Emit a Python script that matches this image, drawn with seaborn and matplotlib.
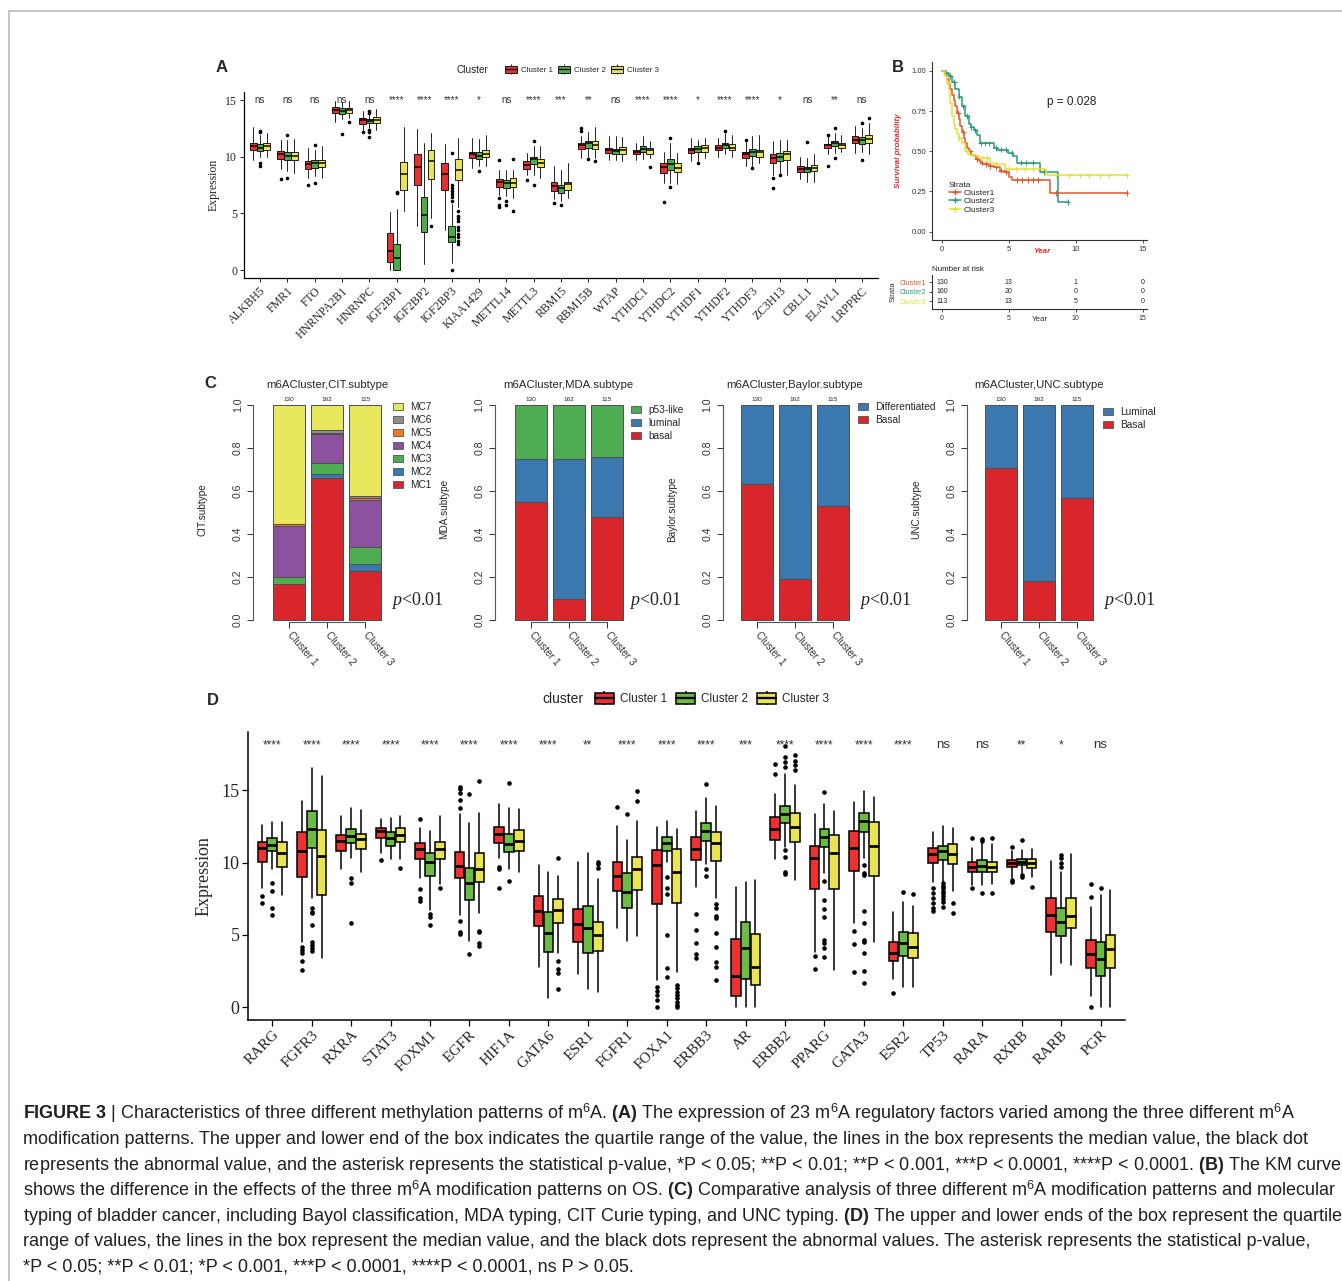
import numpy as np
import pandas as pd
import matplotlib
matplotlib.use("Agg")
import matplotlib.pyplot as plt
from matplotlib.patches import Patch
from matplotlib.lines import Line2D
from matplotlib.legend_handler import HandlerTuple
from matplotlib import font_manager
import seaborn as sns

W, H = 1342, 1281

# ---------------- data: panel A (m6A regulators), (lo, q1, med, q3, hi) ----------------
A_GENES = ["ALKBH5", "FMR1", "FTO", "HNRNPA2B1", "HNRNPC", "IGF2BP1", "IGF2BP2", "IGF2BP3",
           "KIAA1429", "METTL14", "METTL3", "RBM15", "RBM15B", "WTAP", "YTHDC1", "YTHDC2",
           "YTHDF1", "YTHDF2", "YTHDF3", "ZC3H13", "CBLL1", "ELAVL1", "LRPPRC"]
A_SIG = ["ns", "ns", "ns", "ns", "ns", "****", "****", "****", "*", "ns", "****", "***", "**",
         "ns", "****", "****", "*", "****", "****", "*", "ns", "**", "ns"]
A_C1 = [(9.7, 10.6, 10.9, 11.2, 12.6), (8.9, 9.8, 10.2, 10.5, 11.5), (8.1, 8.9, 9.35, 9.65, 10.8),
        (13.1, 13.85, 14.1, 14.35, 14.9), (12.4, 12.9, 13.2, 13.4, 14.05), (0.0, 0.75, 1.7, 3.25, 5.1),
        (3.9, 7.5, 9.1, 10.25, 12.45), (3.55, 7.1, 8.45, 9.4, 11.1), (9.0, 9.9, 10.2, 10.4, 11.65),
        (6.65, 7.3, 7.75, 8.05, 8.85), (8.35, 8.95, 9.3, 9.6, 10.3), (6.3, 7.0, 7.4, 7.75, 9.2),
        (9.9, 10.7, 11.0, 11.2, 11.8), (9.75, 10.3, 10.6, 10.8, 11.8), (9.75, 10.2, 10.4, 10.6, 11.2),
        (7.7, 8.55, 9.1, 9.45, 10.4), (9.6, 10.3, 10.6, 10.75, 11.65), (10.0, 10.55, 10.75, 11.0, 11.65),
        (9.15, 9.9, 10.25, 10.45, 11.3), (8.35, 9.45, 9.9, 10.25, 11.35), (8.05, 8.65, 8.9, 9.15, 10.0),
        (10.2, 10.8, 11.0, 11.15, 11.8), (10.3, 11.2, 11.5, 11.85, 12.75)]
A_C2 = [(10.0, 10.5, 10.8, 11.1, 11.9), (8.7, 9.7, 10.1, 10.4, 11.5), (8.3, 9.0, 9.45, 9.7, 10.6),
        (13.3, 13.8, 14.05, 14.3, 14.8), (12.5, 13.0, 13.15, 13.3, 13.75), (0.0, 0.0, 1.05, 2.3, 5.4),
        (0.5, 3.35, 4.85, 6.45, 11.2), (0.6, 2.5, 2.95, 3.85, 5.8), (9.15, 9.8, 10.1, 10.4, 11.6),
        (6.5, 7.25, 7.7, 7.95, 8.85), (8.4, 9.35, 9.8, 10.0, 10.9), (6.05, 6.8, 7.25, 7.5, 8.85),
        (10.0, 10.8, 11.2, 11.4, 12.2), (9.75, 10.25, 10.5, 10.7, 11.85), (9.8, 10.4, 10.7, 10.9, 11.8),
        (7.7, 8.85, 9.35, 9.8, 11.2), (9.65, 10.4, 10.7, 10.9, 11.5), (10.2, 10.75, 11.05, 11.2, 12.1),
        (9.15, 10.1, 10.4, 10.7, 11.8), (8.55, 9.65, 10.0, 10.3, 11.5), (7.75, 8.65, 8.9, 9.1, 9.9),
        (10.3, 10.9, 11.2, 11.35, 12.1), (10.45, 11.15, 11.5, 11.7, 12.55)]
A_C3 = [(10.0, 10.6, 10.9, 11.2, 12.1), (8.6, 9.7, 10.1, 10.4, 11.6), (8.1, 9.05, 9.4, 9.7, 10.9),
        (13.4, 13.9, 14.1, 14.3, 14.95), (12.4, 12.95, 13.25, 13.5, 14.2), (5.2, 7.1, 8.5, 9.5, 12.6),
        (4.6, 8.0, 9.6, 10.55, 12.1), (5.6, 7.9, 8.85, 9.8, 11.65), (9.15, 10.0, 10.25, 10.6, 11.95),
        (6.35, 7.3, 7.7, 8.1, 8.85), (8.1, 9.1, 9.45, 9.8, 10.9), (6.35, 7.1, 7.55, 7.8, 9.45),
        (9.9, 10.7, 11.05, 11.4, 12.6), (9.65, 10.25, 10.6, 10.85, 11.7), (9.9, 10.25, 10.55, 10.75, 11.35),
        (7.55, 8.65, 9.0, 9.45, 10.3), (9.9, 10.45, 10.75, 11.0, 11.65), (10.0, 10.55, 10.8, 11.1, 11.95),
        (9.45, 10.0, 10.4, 10.6, 11.95), (8.35, 9.75, 10.2, 10.5, 11.5), (7.75, 8.7, 9.0, 9.3, 10.2),
        (10.4, 10.8, 11.05, 11.25, 11.95), (10.2, 11.2, 11.6, 11.9, 12.95)]
A_OUT1 = [[], [8.0], [7.5], [], [12.2], [], [], [], [], [9.7, 6.35, 5.75, 5.6], [7.9], [5.9],
          [12.5, 12.25], [], [], [6.0], [], [], [11.5], [8.1, 7.2], [], [11.95, 9.15], []]
A_OUT2 = [[12.3, 12.2, 9.4, 9.2], [11.9, 8.1], [11.0, 7.7], [12.0], [14.0, 13.85, 12.4, 12.2, 11.7],
          [6.9, 6.8], [], [0.0, 6.1, 6.4, 6.7, 7.0, 7.2, 7.5, 10.3], [8.7], [6.05, 5.75], [11.35, 7.5],
          [5.7], [9.8], [], [], [11.65, 7.3], [9.45], [12.3], [9.0], [8.35], [11.3], [12.5, 9.9], [13.0, 9.75]]
A_OUT3 = [[], [], [], [13.1], [], [], [3.85], [5.2, 4.8, 4.6, 4.3, 3.8, 3.5, 3.2, 2.9, 2.6, 2.3], [],
          [9.8, 5.2], [], [], [9.6], [], [9.05], [], [], [], [], [], [], [], [13.4]]

# ---------------- data: panel B (KM curves) ----------------
KM_NAMES = ["Cluster1", "Cluster2", "Cluster3"]
KM_T1 = [0, 0.2, 0.37, 0.5, 0.62, 0.74, 0.87, 1.0, 1.12, 1.24, 1.37, 1.5, 1.62, 1.74, 1.87, 2.0,
         2.2, 2.36, 2.55, 2.73, 2.9, 3.1, 3.5, 3.85, 4.3, 4.7, 5.0, 5.2, 8.1, 13.8]
KM_S1 = [1.0, 0.98, 0.95, 0.92, 0.89, 0.85, 0.82, 0.78, 0.74, 0.70, 0.66, 0.62, 0.58, 0.55, 0.52, 0.50,
         0.48, 0.47, 0.45, 0.44, 0.43, 0.42, 0.41, 0.40, 0.38, 0.37, 0.34, 0.32, 0.24, 0.24]
KM_T2 = [0, 0.25, 0.5, 0.74, 1.0, 1.24, 1.5, 1.74, 2.0, 2.2, 2.4, 2.6, 2.85, 3.85, 4.2, 4.96, 5.3,
         5.6, 7.3, 8.7, 9.4]
KM_S2 = [1.0, 0.99, 0.97, 0.93, 0.89, 0.84, 0.78, 0.72, 0.67, 0.65, 0.63, 0.60, 0.55, 0.52, 0.51,
         0.49, 0.47, 0.43, 0.37, 0.185, 0.185]
KM_T3 = [0, 0.25, 0.37, 0.5, 0.62, 0.74, 0.87, 1.0, 1.12, 1.24, 1.5, 1.74, 2.0, 2.4, 2.73, 3.6, 3.85,
         4.7, 7.8, 13.8]
KM_S3 = [1.0, 0.97, 0.93, 0.88, 0.80, 0.72, 0.67, 0.64, 0.61, 0.58, 0.55, 0.50, 0.48, 0.47, 0.46,
         0.43, 0.42, 0.39, 0.35, 0.35]
CENS1 = [1.2, 1.6, 2.1, 2.6, 3.0, 3.3, 3.6, 4.0, 4.4, 4.8, 5.6, 6.0, 6.4, 6.8, 7.2, 8.5, 13.8]
CENS2 = [0.3, 0.6, 0.9, 1.3, 1.6, 1.9, 2.2, 2.5, 2.9, 3.2, 3.5, 4.0, 4.4, 4.8, 5.2, 5.9, 6.3, 6.8, 7.6, 9.4]
CENS3 = [0.4, 1.3, 1.9, 2.5, 3.0, 3.4, 4.0, 5.0, 5.5, 6.2, 6.8, 7.3, 8.5, 9.5, 10.3, 11.0, 11.8, 12.5, 13.8]
RISK_T = [0, 5, 10, 15]
RISK_1 = [130, 13, 1, 0]
RISK_2 = [160, 20, 0, 0]
RISK_3 = [113, 13, 5, 0]

# ---------------- data: panel C (subtype counts per cluster) ----------------
CLUSTERS = ["Cluster 1", "Cluster 2", "Cluster 3"]
CIT_LEVELS = ["MC1", "MC2", "MC3", "MC4", "MC5", "MC6", "MC7"]
CIT_COUNTS = [[22, 0, 4, 31, 1, 0, 72], [107, 3, 8, 22, 1, 2, 19], [26, 4, 9, 25, 1, 1, 49]]
MDA_LEVELS = ["basal", "luminal", "p53-like"]
MDA_COUNTS = [[71, 26, 33], [16, 105, 41], [55, 32, 28]]
BAY_LEVELS = ["Basal", "Differentiated"]
BAY_COUNTS = [[82, 48], [31, 131], [61, 54]]
UNC_LEVELS = ["Basal", "Luminal"]
UNC_COUNTS = [[92, 38], [29, 133], [65, 50]]

# ---------------- data: panel D (receptor / TF genes) ----------------
D_GENES = ["RARG", "FGFR3", "RXRA", "STAT3", "FOXM1", "EGFR", "HIF1A", "GATA6", "ESR1", "FGFR1",
           "FOXA1", "ERBB3", "AR", "ERBB2", "PPARG", "GATA3", "ESR2", "TP53", "RARA", "RXRB", "RARB", "PGR"]
D_SIG = ["****", "****", "****", "****", "****", "****", "****", "****", "**", "****", "****",
         "****", "***", "****", "****", "****", "****", "ns", "ns", "**", "*", "ns"]
D_C1 = [(8.27, 10.07, 10.99, 11.45, 12.6), (4.54, 8.99, 10.8, 12.1, 14.29), (9.54, 10.83, 11.5, 11.91, 13.25),
        (10.65, 11.68, 12.19, 12.42, 13.02), (8.92, 10.25, 10.92, 11.34, 12.37), (6.38, 8.92, 9.79, 10.76, 13.36),
        (10.35, 11.34, 11.98, 12.49, 14.06), (2.81, 5.65, 6.66, 7.7, 9.84), (2.28, 4.54, 5.74, 6.8, 10.02),
        (5.51, 8.06, 9.08, 10.07, 12.56), (1.89, 7.12, 9.84, 10.88, 12.44), (8.29, 10.18, 10.92, 11.8, 13.57),
        (0.05, 0.81, 2.17, 4.72, 8.34), (10.23, 11.57, 12.3, 13.18, 14.72), (3.85, 8.16, 10.3, 11.18, 13.34),
        (5.81, 9.45, 10.99, 12.21, 14.22), (1.96, 3.2, 3.73, 4.49, 6.61), (8.64, 9.95, 10.62, 10.99, 12.14),
        (8.46, 9.33, 9.72, 10.07, 10.99), (8.96, 9.68, 9.95, 10.18, 10.81), (2.24, 5.23, 6.38, 7.58, 10.14),
        (0.81, 2.74, 3.66, 4.65, 6.96)]
D_C2 = [(9.54, 10.8, 11.22, 11.68, 12.83), (7.53, 10.99, 12.33, 13.59, 16.52), (10.3, 11.34, 11.87, 12.33, 13.8),
        (10.25, 11.18, 11.68, 12.14, 13.06), (6.73, 9.08, 10.02, 10.69, 12.21), (4.59, 7.42, 8.62, 9.65, 12.76),
        (9.54, 10.76, 11.27, 11.98, 13.8), (0.62, 3.85, 5.12, 6.61, 9.38), (1.27, 3.73, 5.46, 7.0, 10.65),
        (4.59, 6.89, 7.95, 9.26, 11.57), (10.07, 10.81, 11.38, 11.8, 12.9), (9.88, 11.5, 12.21, 12.72, 14.45),
        (0.05, 1.96, 4.08, 5.88, 8.64), (11.11, 12.76, 13.34, 13.89, 16.1), (9.3, 11.08, 11.8, 12.33, 14.06),
        (10.3, 12.14, 12.88, 13.41, 14.95), (1.43, 3.57, 4.42, 5.23, 7.3), (8.69, 10.18, 10.81, 11.18, 12.56),
        (8.46, 9.33, 9.77, 10.18, 11.45), (9.31, 9.84, 10.07, 10.25, 10.88), (3.09, 4.95, 5.88, 6.84, 9.33),
        (0.0, 2.19, 3.34, 4.49, 7.76)]
D_C3 = [(7.76, 9.72, 10.65, 11.4, 12.83), (3.43, 7.76, 10.48, 12.26, 16.0), (9.33, 10.94, 11.64, 11.98, 13.64),
        (10.25, 11.45, 11.91, 12.42, 13.22), (8.5, 10.25, 10.92, 11.45, 13.22), (6.5, 8.69, 9.56, 10.69, 13.46),
        (9.38, 10.83, 11.52, 12.26, 13.71), (3.73, 5.81, 6.73, 7.49, 9.1), (1.08, 3.89, 5.0, 5.88, 8.87),
        (4.95, 8.11, 9.54, 10.41, 12.88), (2.47, 7.19, 9.33, 10.92, 12.33), (7.53, 10.12, 11.38, 12.1, 13.94),
        (0.05, 1.54, 2.81, 5.05, 8.8), (8.8, 11.45, 12.44, 13.46, 15.37), (2.58, 8.18, 10.69, 11.91, 13.59),
        (4.54, 9.08, 11.15, 12.83, 14.56), (1.43, 3.43, 4.19, 5.12, 7.03), (8.06, 9.91, 10.62, 11.29, 12.42),
        (8.53, 9.33, 9.68, 10.07, 11.29), (9.03, 9.61, 9.95, 10.23, 10.94), (2.93, 5.46, 6.34, 7.58, 10.58),
        (0.0, 2.7, 4.03, 5.0, 8.11)]
D_OUT1 = [[7.72, 7.19], [4.19, 3.96, 3.73, 3.2, 2.58], [], [10.18], [13.02, 8.18, 7.58, 7.35],
          [15.25, 15.09, 14.79, 14.33, 13.76, 5.97, 5.23, 5.05], [9.72, 9.56, 8.23], [], [], [13.87],
          [1.43, 1.13, 0.85, 0.51, 0.05], [6.43, 5.35, 4.42, 3.66, 3.43], [], [16.8, 16.1], [3.55, 2.63],
          [5.28, 4.35, 2.42], [0.97], [8.23, 7.88, 7.53, 7.19, 6.89, 6.66], [11.68, 8.23], [11.11, 8.8, 8.69],
          [], [8.53, 7.65, 0.0]]
D_OUT2 = [[8.57, 8.04, 6.89, 6.38], [6.84, 6.61, 6.5, 5.69, 4.54, 4.31, 4.08, 3.89], [8.92, 8.57, 5.81], [],
          [6.43, 6.27, 5.69], [14.72, 3.66], [15.48, 8.76], [], [], [13.34], [9.03, 8.23, 7.81, 5.0, 2.7, 2.12],
          [15.41, 9.56, 9.1], [], [18.09, 17.33, 16.94, 16.64, 10.88, 10.41, 9.38, 9.19],
          [14.86, 8.76, 7.42, 6.8, 6.27, 4.65, 4.42, 4.08, 3.46],
          [9.84, 9.26, 9.15, 6.68, 5.81, 4.65, 4.54, 3.73, 2.51, 1.7], [8.0],
          [8.57, 8.4, 8.23, 8.06, 7.88, 7.7, 7.47, 7.3, 6.96], [11.64, 11.5, 7.88], [11.57, 9.15, 9.03],
          [10.53, 10.3, 9.95, 9.72], [8.23]]
D_OUT3 = [[], [], [], [9.61], [8.27], [15.65, 5.28, 5.18, 4.42, 4.26], [], [10.3, 3.2, 2.63, 2.35, 1.27],
          [10.07, 9.88, 9.65], [14.95, 14.26], [1.54, 1.31, 1.08, 0.85, 0.62, 0.39, 0.16, 0.05],
          [7.12, 6.89, 6.34, 6.15, 5.12, 4.19, 3.11, 2.81, 1.89], [], [17.44, 17.03, 16.75, 16.41], [], [],
          [7.81], [7.24, 6.54], [11.68, 7.88], [8.29], [], []]

# ---------------- colours ----------------
A_COLS = ["#E4312F", "#4FAA4A", "#E9E35A"]
D_COLS = ["#EE3030", "#6CBB45", "#EAE455"]
KM_COLS = ["#E5562A", "#2A9D78", "#E3E13A"]
CIT_COLS = ["#D9262C", "#3A78AF", "#4EAD52", "#8C52A0", "#F27A22", "#8E8E8E", "#E9E75D"]
MDA_COLS = ["#D9262C", "#3A78AF", "#4EAD52"]
TWO_COLS = ["#D9262C", "#3A78AF"]

# ---------------- style / fonts ----------------
sns.set_style("ticks")
names = {f.name for f in font_manager.fontManager.ttflist}
SANS = "Liberation Sans"
NARROW = "Liberation Sans Narrow" if "Liberation Sans Narrow" in names else SANS
SERIF = "Liberation Serif"
plt.rcParams["font.family"] = [SANS, "DejaVu Sans"]
plt.rcParams["mathtext.fontset"] = "custom"
plt.rcParams["mathtext.rm"] = NARROW
plt.rcParams["mathtext.bf"] = NARROW + ":bold"
plt.rcParams["mathtext.it"] = SERIF + ":italic"


def px(x0, y0, x1, y1):
    return [x0 / W, 1 - y1 / H, (x1 - x0) / W, (y1 - y0) / H]


def draw_boxes(ax, stats, outs, cols, lw, ms):
    xs = np.arange(len(stats[0]))
    for k in range(3):
        bx = [dict(whislo=s[0], q1=s[1], med=s[2], q3=s[3], whishi=s[4], fliers=o)
              for s, o in zip(stats[k], outs[k])]
        ax.bxp(bx, positions=xs + (k - 1) * 0.25, widths=0.245, patch_artist=True,
               showcaps=False, manage_ticks=False,
               boxprops=dict(facecolor=cols[k], edgecolor="black", linewidth=lw),
               medianprops=dict(color="black", linewidth=lw * 1.8),
               whiskerprops=dict(color="black", linewidth=lw),
               flierprops=dict(marker="o", markerfacecolor="black", markeredgecolor="black",
                               markersize=ms, linestyle="none"))


def box_key(col, lw, ms):
    return (Line2D([], [], color="black", marker="|", markersize=ms, linestyle="None",
                   markeredgewidth=lw),
            Patch(facecolor=col, edgecolor="black", linewidth=lw),
            Line2D([], [], color="black", linewidth=lw * 1.5))


fig = plt.figure(figsize=(W / 100, H / 100), dpi=100)

# frame
fig.add_artist(Line2D([9 / W, 9 / W], [0, 1 - 11 / H], transform=fig.transFigure, color="#bbbbbb", lw=1.2))
fig.add_artist(Line2D([9 / W, 1], [1 - 11 / H, 1 - 11 / H], transform=fig.transFigure, color="#bbbbbb", lw=1.2))

# panel letters
for lab, x, y in [("A", 222, 67), ("B", 898, 67), ("C", 210, 383), ("D", 213, 700)]:
    fig.text(x / W, 1 - y / H, lab, ha="center", va="center", fontsize=12, fontweight="bold")

# ================= Panel A =================
axA = fig.add_axes(px(244, 92, 878, 278))
draw_boxes(axA, [A_C1, A_C2, A_C3], [A_OUT1, A_OUT2, A_OUT3], A_COLS, 0.6, 1.6)
axA.set_xlim(-0.585, 22.59)
axA.set_ylim(-0.706, 15.71)
axA.set_xticks(range(len(A_GENES)))
axA.set_xticklabels(A_GENES, rotation=45, ha="right", rotation_mode="anchor", family=SERIF, fontsize=8.5)
axA.set_yticks([0, 5, 10, 15])
axA.set_yticklabels(["0", "5", "10", "15"], family=SERIF, fontsize=8.5)
axA.set_ylabel("Expression", family=SERIF, fontsize=8.5)
axA.yaxis.set_label_coords(-0.039, 0.5)
axA.tick_params(length=3, width=0.6, color="black", pad=2)
sns.despine(ax=axA)
for s in ["left", "bottom"]:
    axA.spines[s].set_color("black")
    axA.spines[s].set_linewidth(0.9)
for i, s in enumerate(A_SIG):
    axA.text(i, 15.0, s, ha="center", va="center", fontsize=7, color="#333333")
fig.text(472 / W, 1 - 70 / H, "Cluster", ha="center", va="center", fontsize=7.2, color="#222222")
axA.legend([box_key(c, 0.6, 7) for c in A_COLS], ["Cluster 1", "Cluster 2", "Cluster 3"],
           handler_map={tuple: HandlerTuple(ndivide=1)}, ncol=3, frameon=False, fontsize=5.8,
           loc="center", bbox_to_anchor=(582 / W, 1 - 70 / H), bbox_transform=fig.transFigure,
           handlelength=1.5, handleheight=1.0, columnspacing=0.7, handletextpad=0.4)

# ================= Panel B =================
axB = fig.add_axes(px(932, 62, 1147, 240))
km = pd.concat([pd.DataFrame({"time": t, "surv": s, "Strata": n})
                for t, s, n in zip([KM_T1, KM_T2, KM_T3], [KM_S1, KM_S2, KM_S3], KM_NAMES)])
pal = dict(zip(KM_NAMES, KM_COLS))
sns.lineplot(data=km, x="time", y="surv", hue="Strata", palette=pal, estimator=None, sort=False,
             drawstyle="steps-post", linewidth=1.1, legend=False, ax=axB)
cens_rows = []
for t, s, c, n in zip([KM_T1, KM_T2, KM_T3], [KM_S1, KM_S2, KM_S3], [CENS1, CENS2, CENS3], KM_NAMES):
    idx = np.searchsorted(np.array(t), np.array(c), side="right") - 1
    cens_rows.append(pd.DataFrame({"time": c, "surv": np.array(s)[idx], "Strata": n}))
cens = pd.concat(cens_rows)
sns.scatterplot(data=cens, x="time", y="surv", hue="Strata", palette=pal, marker="+", s=16,
                linewidth=0.7, legend=False, ax=axB)
axB.set_xlim(-0.75, 15.33)
axB.set_ylim(-0.052, 1.056)
axB.set_xticks(RISK_T)
axB.set_yticks([0, 0.25, 0.5, 0.75, 1.0])
axB.set_yticklabels(["0.00", "0.25", "0.50", "0.75", "1.00"])
axB.tick_params(labelsize=5.5, length=2.5, width=0.6, colors="#333333", pad=1.5)
sns.despine(ax=axB)
for s in ["left", "bottom"]:
    axB.spines[s].set_color("#333333")
    axB.spines[s].set_linewidth(0.8)
axB.set_xlabel("Year", color="#E8262A", fontsize=5.8, fontweight="bold", fontstyle="italic")
axB.xaxis.set_label_coords(0.51, -0.045)
axB.set_ylabel("Survival probability", color="#E8262A", fontsize=5.8, fontweight="bold", fontstyle="italic")
axB.yaxis.set_label_coords(-0.14, 0.5)
axB.text(9.7, 0.81, "p = 0.028", ha="center", va="center", fontsize=8.5, color="#222222")
legB = axB.legend([Line2D([], [], color=c, lw=1.1, marker="+", markersize=4) for c in KM_COLS], KM_NAMES,
                  title="Strata", loc="upper left", bbox_to_anchor=(0.06, 0.35), frameon=False,
                  fontsize=6, title_fontsize=6, labelspacing=0.05, handlelength=1.4, handletextpad=0.3,
                  borderpad=0, alignment="left")

# risk table
axR = fig.add_axes(px(932, 275, 1147, 309))
axR.set_xlim(-0.75, 15.33)
axR.set_ylim(0.16, 3.74)
for row, vals in zip([3, 2, 1], [RISK_1, RISK_2, RISK_3]):
    for t, n in zip(RISK_T, vals):
        axR.text(t, row, str(n), ha="center", va="center", fontsize=5, color="#222222")
axR.set_xticks(RISK_T)
axR.set_yticks([3, 2, 1])
axR.set_yticklabels(KM_NAMES)
axR.tick_params(labelsize=5, length=2.5, width=0.6, colors="#333333", pad=1.5)
for lbl, c in zip(axR.get_yticklabels(), KM_COLS):
    lbl.set_color(c)
sns.despine(ax=axR)
for s in ["left", "bottom"]:
    axR.spines[s].set_color("#333333")
    axR.spines[s].set_linewidth(0.8)
axR.set_title("Number at risk", loc="left", fontsize=5.8, color="#222222", pad=3)
axR.set_xlabel("Year", fontsize=5.8, color="#333333")
axR.xaxis.set_label_coords(0.5, -0.2)
axR.set_ylabel("Strata", fontsize=5.5, color="#333333")
axR.yaxis.set_label_coords(-0.163, 0.5)


# ================= Panel C =================
def stacked(spine_x, c1_x, title, ylabel, levels, counts, cols, leg_x, leg_y, p_x):
    unit = 38.0
    ax = fig.add_axes(px(spine_x, 396, spine_x + 133, 622.3))
    cnt = np.array(counts, dtype=float)
    tot = cnt.sum(axis=1)
    cum = np.cumsum(cnt / tot[:, None], axis=1)
    for j in range(len(levels) - 1, -1, -1):
        sns.barplot(x=CLUSTERS, y=list(cum[:, j]), order=CLUSTERS, color=cols[j], saturation=1,
                    width=0.84, edgecolor="#4d4d4d", linewidth=0.7, errorbar=None, ax=ax)
    left = (spine_x - c1_x) / unit
    ax.set_xlim(left, left + 133 / unit)
    ax.set_ylim(-0.0107, 1.04)
    ax.set_xlabel("")
    ax.set_yticks(np.linspace(0, 1, 6))
    ax.set_yticklabels(["0.0", "0.2", "0.4", "0.6", "0.8", "1.0"], rotation=90, va="center", fontsize=7.6)
    ax.set_xticks(range(3))
    ax.set_xticklabels(CLUSTERS, rotation=-50, ha="left", va="center", rotation_mode="anchor", fontsize=7.3)
    ax.tick_params(length=4.5, width=0.7, colors="#333333", pad=3)
    sns.despine(ax=ax)
    ax.spines["left"].set_bounds(0, 1)
    ax.spines["bottom"].set_bounds(0, 2)
    for s in ["left", "bottom"]:
        ax.spines[s].set_color("#555555")
        ax.spines[s].set_linewidth(0.8)
    ax.set_ylabel(ylabel, fontsize=7.2)
    ax.yaxis.set_label_coords(-0.345, 0.5)
    for i, n in enumerate(tot):
        ax.text(i, 1.023, str(int(n)), ha="center", va="center", fontsize=4.6)
    ax.text(1, 1.093, title, ha="center", va="center", fontsize=8.2)
    handles = [Patch(facecolor=c, edgecolor="#555555", linewidth=0.6) for c in cols][::-1]
    ax.legend(handles, levels[::-1], loc="upper left", bbox_to_anchor=(leg_x / W, 1 - leg_y / H),
              bbox_transform=fig.transFigure, frameon=False, fontsize=7.3, handlelength=1.0,
              handleheight=0.7, labelspacing=0.3, handletextpad=0.7, borderpad=0, borderaxespad=0)
    fig.text(p_x / W, 1 - 600 / H, r"$\mathit{p}$<0.01", ha="center", va="center", family=SERIF, fontsize=13)
    return ax


stacked(253.3, 289.3, "m6ACluster,CIT.subtype", "CIT.subtype", CIT_LEVELS, CIT_COUNTS, CIT_COLS, 393, 402, 417)
stacked(495, 530.8, "m6ACluster,MDA.subtype", "MDA.subtype", MDA_LEVELS, MDA_COUNTS, MDA_COLS, 631, 405, 655)
stacked(722.7, 756.8, "m6ACluster,Baylor.subtype", "Baylor.subtype", BAY_LEVELS, BAY_COUNTS, TWO_COLS, 858, 402, 885)
stacked(966.7, 1000.8, "m6ACluster,UNC.subtype", "UNC.subtype", UNC_LEVELS, UNC_COUNTS, TWO_COLS, 1103, 407, 1129)

# ================= Panel D =================
axD = fig.add_axes(px(248, 732, 1125, 1020))
draw_boxes(axD, [D_C1, D_C2, D_C3], [D_OUT1, D_OUT2, D_OUT3], D_COLS, 1.1, 2.3)
axD.set_xlim(-0.616, 21.62)
axD.set_ylim(-0.878, 19.03)
axD.set_xticks(range(len(D_GENES)))
axD.set_xticklabels(D_GENES, rotation=45, ha="right", rotation_mode="anchor", family=SERIF, fontsize=11)
axD.set_yticks([0, 5, 10, 15])
axD.set_yticklabels(["0", "5", "10", "15"], family=SERIF, fontsize=13)
axD.set_ylabel("Expression", family=SERIF, fontsize=13)
axD.yaxis.set_label_coords(-0.04, 0.5)
axD.tick_params(length=4, width=0.9, color="black", pad=2)
sns.despine(ax=axD)
for s in ["left", "bottom"]:
    axD.spines[s].set_color("black")
    axD.spines[s].set_linewidth(1.1)
for i, s in enumerate(D_SIG):
    axD.text(i, 18.1, s, ha="center", va="center", fontsize=9.5 if s == "ns" else 8.5, color="#333333")
fig.text(563 / W, 1 - 699 / H, "cluster", ha="center", va="center", fontsize=10, color="#222222")
axD.legend([box_key(c, 1.1, 10) for c in D_COLS], ["Cluster 1", "Cluster 2", "Cluster 3"],
           handler_map={tuple: HandlerTuple(ndivide=1)}, ncol=3, frameon=False, fontsize=8.5,
           loc="center", bbox_to_anchor=(712 / W, 1 - 699 / H), bbox_transform=fig.transFigure,
           handlelength=1.6, handleheight=1.1, columnspacing=0.8, handletextpad=0.5)

# ================= Caption =================
CAPTION = [
    r"$\mathbf{FIGURE\ 3}$ | Characteristics of three different methylation patterns of m$^6$A. $\mathbf{(A)}$ The expression of 23 m$^6$A regulatory factors varied among the three different m$^6$A",
    "modification patterns. The upper and lower end of the box indicates the quartile range of the value, the lines in the box represents the median value, the black dot",
    r"represents the abnormal value, and the asterisk represents the statistical p-value, *P < 0.05; **P < 0.01; **P < 0.001, ***P < 0.0001, ****P < 0.0001. $\mathbf{(B)}$ The KM curve",
    r"shows the difference in the effects of the three m$^6$A modification patterns on OS. $\mathbf{(C)}$ Comparative analysis of three different m$^6$A modification patterns and molecular",
    r"typing of bladder cancer, including Bayol classification, MDA typing, CIT Curie typing, and UNC typing. $\mathbf{(D)}$ The upper and lower ends of the box represent the quartile",
    "range of values, the lines in the box represent the median value, and the black dots represent the abnormal values. The asterisk represents the statistical p-value,",
    "*P < 0.05; **P < 0.01; *P < 0.001, ***P < 0.0001, ****P < 0.0001, ns P > 0.05.",
]
CAP_BASE = [1119, 1144.5, 1170, 1195.5, 1221, 1246.5, 1272]
caps = [fig.text(23 / W, 1 - y / H, line, ha="left", va="baseline", fontsize=12, family=NARROW,
                 color="#231f20") for line, y in zip(CAPTION, CAP_BASE)]
renderer = fig.canvas.get_renderer()
wid = caps[2].get_window_extent(renderer).width
for t in caps:
    t.set_fontsize(12 * 1312 / wid)

fig.savefig("out.png", dpi=100)
